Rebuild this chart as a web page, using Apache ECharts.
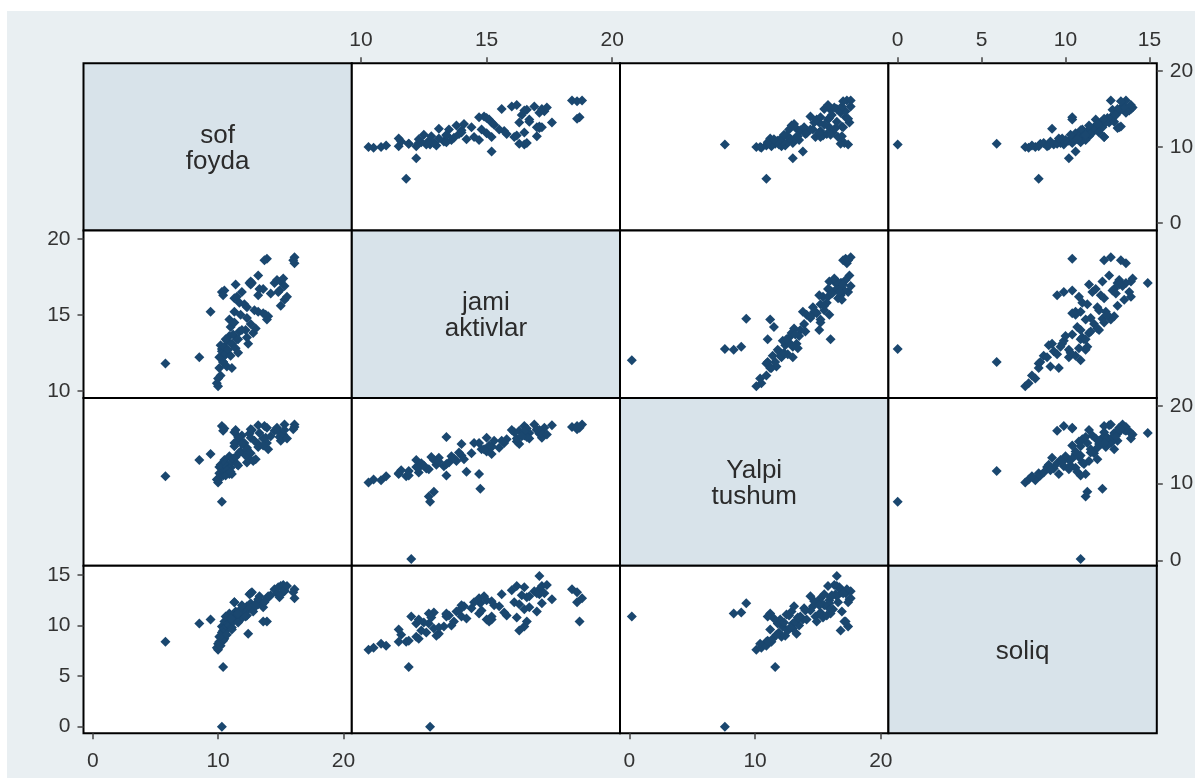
<!DOCTYPE html>
<html><head><meta charset="utf-8">
<script src="https://cdn.jsdelivr.net/npm/echarts@6/dist/echarts.min.js"></script>
<style>html,body{margin:0;padding:0;background:#fff;}#chart{width:1195px;height:780px;}</style>
</head><body><div id="chart"></div>
<script>
// ---- DATA (one entry per observation; null = missing) ----
const varLabels = ['sof\nfoyda', 'jami\naktivlar', 'Yalpi\ntushum', 'soliq'];
const sofFoyda = [10.3, null, 10.4, 5.8, 8.5, 9.4, null, null, null, null,
  10.0, 9.9, 10.0, 10.2, 10.1, 10.4, 10.5,
  10.3,10.5,10.4,11.4,11.3,11.5,11.9,11.7,11.3,12.1,
  12.3,11.8,12.3,12.5,12.7,12.6,13.2,13.9,13.3,13.6,
  13.2,12.9,13.2,13.6,13.9,14.0,13.8,12.4,12.3,12.2,
  12.6,12.8,13.0,10.1,10.3,10.2,10.5,10.6,10.7,10.8,
  10.9,11.0,11.1,11.2,11.4,11.5,11.6,11.7,10.7,11.1,
  14.5,14.7,15.0,15.3,14.9,14.8,15.2,15.0,15.3,15.5,
  16.1,16.1,16.0,13.7,10.9,10.6,11.0,11.3,11.6,11.9,
  12.6,14.2];
const jamiAktivlar = [12.75, 12.0, 11.9, 11.8, 12.2, 15.2, 12.9, 14.75, 12.7, 17.1,
  10.3, 10.5, 10.8, 11.0, 11.5, 11.9, 12.3,
  16.5,16.6,16.3,17.0,16.1,16.2,16.5,15.8,15.2,15.7,
  15.5,15.0,14.8,17.1,17.1,17.2,17.6,18.7,16.7,16.7,
  16.3,15.3,15.2,15.1,14.7,14.9,15.0,13.1,13.5,14.0,
  14.4,13.8,14.1,12.2,12.6,13.0,12.9,12.4,13.3,12.7,
  13.6,12.3,13.1,13.7,12.8,13.4,12.5,13.9,11.6,11.5,
  17.1,17.3,17.2,16.9,16.6,16.5,17.4,15.6,16.0,16.2,
  18.8,18.4,18.6,18.6,14.7,13.4,14.2,14.5,13.4,14.0,
  17.0,16.4];
const yalpiTushum = [7.6, 0.2, 11.6, 10.9, 13.0, 13.8, 8.9, 9.3, 8.3, 16.5,
  10.1, 10.5, 10.4, 10.9, 11.3, 11.0, 11.4,
  17.4,17.1,16.8,16.9,16.6,15.4,16.2,15.7,14.8,15.2,
  14.6,14.1,14.4,16.4,16.9,15.9,17.5,17.2,16.5,15.8,
  15.1,15.5,14.7,14.9,15.2,14.4,15.9,13.3,12.7,13.6,
  13.9,12.9,13.1,12.1,11.9,12.4,13.0,12.6,12.2,11.8,
  13.5,12.0,12.8,13.2,13.4,12.5,12.3,14.0,11.7,11.2,
  16.8,17.2,16.5,17.6,16.0,16.7,16.3,15.5,16.9,15.8,
  17.6,17.3,17.0,17.4,11.2,11.0,11.5,15.2,16.0,15.1,
  17.0,16.1];
const soliq = [0, 10.9, 5.9, 8.4, 10.2, 10.6, 11.3, 12.2, 11.2, 14.9,
  7.6, 7.8, 8.2, 8.0, 8.4, 8.5, 8.7,
  9.9,10.4,9.5,11.4,12.3,10.8,11.6,11.0,10.9,11.3,
  11.9,10.6,11.5,13.1,13.3,12.2,12.6,10.4,12.9,11.8,
  12.1,12.0,12.4,10.4,12.7,12.9,12.5,9.2,11.0,10.9,
  11.7,11.4,11.9,8.9,9.3,9.0,9.7,9.5,9.9,10.2,
  10.0,10.6,9.8,10.4,10.8,11.1,10.3,11.5,9.1,9.6,
  13.6,13.2,13.9,13.4,12.8,13.8,14.0,13.1,13.5,13.9,
  12.7,13.6,13.3,12.3,11.2,10.9,10.7,12.3,11.2,12.0,
  13.2,13.0];
const ticksSof = [0, 10, 20];
const ticksAktiv = [10, 15, 20];
const ticksYalpi = [0, 10, 20];
const ticksSoliq = [0, 5, 10, 15];

// ---- LAYOUT ----
const vars = [sofFoyda, jamiAktivlar, yalpiTushum, soliq];
const tickSets = [ticksSof, ticksAktiv, ticksYalpi, ticksSoliq];
const colX = [83.5, 351.8, 620, 888.4, 1156.8];
const rowY = [63.3, 230.5, 398, 565.7, 733.3];
const xRange = [[-0.74, 20.67], [9.634, 20.31], [-0.74, 20.6], [-0.555, 15.44]];
const yRange = [[-1.0, 21.0], [9.52, 20.56], [-0.67, 21.04], [-0.66, 15.92]];
const xLabeled = {'0,1': 'top', '0,3': 'top', '3,0': 'bottom', '3,2': 'bottom'};
const yLabeled = {'1,0': 'left', '3,0': 'left', '0,3': 'right', '2,3': 'right'};
const FONT = '"Liberation Sans", Arial, sans-serif';
const BG = '#e9eff2', DIAG = '#d8e3ea', NAVY = '#1a476f';

const grids = [], xAxes = [], yAxes = [], series = [], graphics = [];
graphics.push({type: 'rect', shape: {x: 0, y: 0, width: 1195, height: 11}, style: {fill: '#fff'}, silent: true});
graphics.push({type: 'rect', shape: {x: 0, y: 0, width: 7, height: 780}, style: {fill: '#fff'}, silent: true});
graphics.push({type: 'rect', shape: {x: 0, y: 778, width: 1195, height: 2}, style: {fill: '#fff'}, silent: true});

function axisDef(gi, range, pos, ticks, isX) {
  const show = !!pos;
  const a = {
    type: 'value', gridIndex: gi, min: range[0], max: range[1], scale: true,
    axisLine: {show: false, onZero: false}, splitLine: {show: false},
    axisTick: {show: show, inside: false, length: 6, lineStyle: {color: '#444', width: 1.5}},
    axisLabel: {show: show, fontSize: 21, color: '#333', margin: pos === 'bottom' ? 17 : 13, fontFamily: FONT},
    animation: false
  };
  if (show) {
    a.position = pos;
    a.axisTick.customValues = ticks;
    a.axisLabel.customValues = ticks;
  } else {
    a.position = isX ? 'bottom' : 'left';
  }
  return a;
}

for (let r = 0; r < 4; r++) {
  for (let c = 0; c < 4; c++) {
    const gi = grids.length;
    const diag = r === c;
    grids.push({
      left: colX[c], top: rowY[r], width: colX[c + 1] - colX[c], height: rowY[r + 1] - rowY[r],
      show: true, backgroundColor: diag ? DIAG : '#fff', borderColor: '#000', borderWidth: 2,
      containLabel: false, outerBoundsMode: 'none'
    });
    const key = r + ',' + c;
    xAxes.push(axisDef(gi, xRange[c], diag ? null : xLabeled[key], tickSets[c], true));
    yAxes.push(axisDef(gi, yRange[r], diag ? null : yLabeled[key], tickSets[r], false));
    if (diag) {
      graphics.push({
        type: 'text', z: 50,
        x: (colX[c] + colX[c + 1]) / 2, y: (rowY[r] + rowY[r + 1]) / 2 + 2,
        style: {text: varLabels[r], fill: '#2b2b2b', font: '26px ' + FONT,
                align: 'center', verticalAlign: 'middle', lineHeight: 26}
      });
    } else {
      const xs = vars[c], ys = vars[r], pts = [];
      for (let i = 0; i < xs.length; i++) {
        if (xs[i] !== null && ys[i] !== null) pts.push([xs[i], ys[i]]);
      }
      series.push({
        type: 'scatter', xAxisIndex: gi, yAxisIndex: gi, data: pts,
        symbol: 'diamond', symbolSize: 10, itemStyle: {color: NAVY, opacity: 1},
        emphasis: {disabled: true}, silent: true, animation: false, clip: false
      });
    }
  }
}

const chart = echarts.init(document.getElementById('chart'), null, {renderer: 'canvas'});
chart.setOption({
  backgroundColor: BG, animation: false,
  grid: grids, xAxis: xAxes, yAxis: yAxes, series: series, graphic: graphics
});
</script></body></html>
